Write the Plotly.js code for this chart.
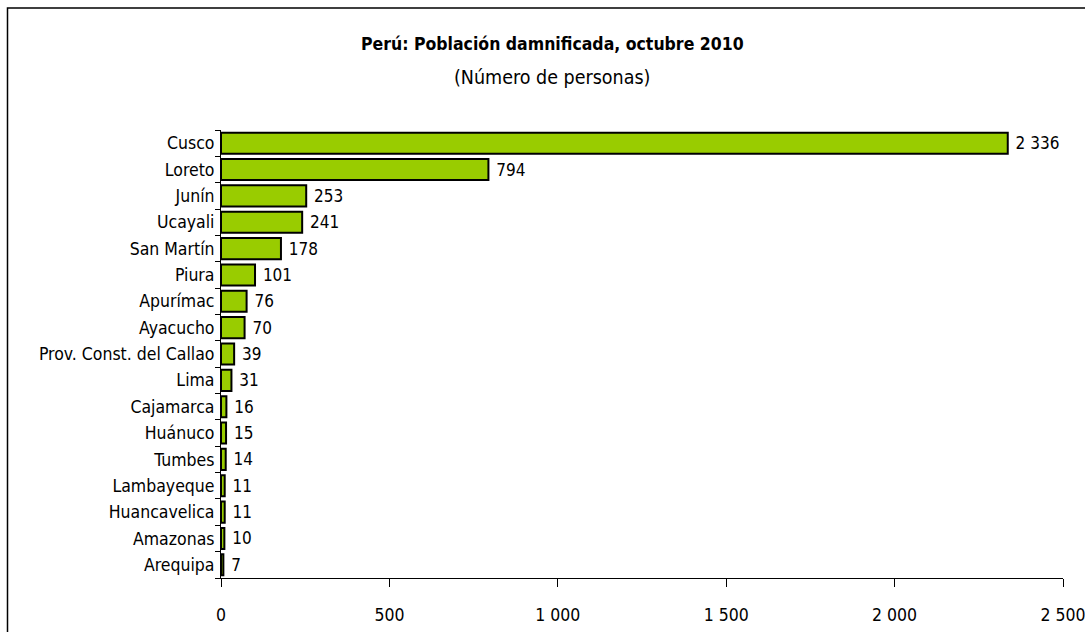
<!DOCTYPE html>
<html>
<head>
<meta charset="utf-8">
<script src="https://cdn.plot.ly/plotly-3.0.1.min.js"></script>
<style>
html,body{margin:0;padding:0;background:#fff;}
#chart{width:1085px;height:632px;}
#chart text{font-stretch:condensed !important;}
</style>
</head>
<body>
<div id="chart"></div>
<script>
const regiones = ["Cusco","Loreto","Junín","Ucayali","San Martín","Piura","Apurímac","Ayacucho","Prov. Const. del Callao","Lima","Cajamarca","Huánuco","Tumbes","Lambayeque","Huancavelica","Amazonas","Arequipa"];
const damnificados = [2336,794,253,241,178,101,76,70,39,31,16,15,14,11,11,10,7];
const xTicks = [0,500,1000,1500,2000,2500];
const titulo = "Perú: Población damnificada, octubre 2010";
const subtitulo = "(Número de personas)";

function fmt(v){ return String(v).replace(/\B(?=(\d{3})+(?!\d))/g, " "); }

const FONT = "'DejaVu Sans Condensed', 'DejaVu Sans', sans-serif";

const W = 1085, H = 632, L = 221, R = 22, T = 130, B = 54;
const pw = W - L - R, ph = H - T - B;
function px(x){ return (x - L) / pw; }
function py(y){ return (H - B - y) / ph; }

const trace = {
  type: "bar",
  orientation: "h",
  y: regiones,
  x: damnificados,
  text: damnificados.map(v => "\u00a0" + fmt(v)),
  textposition: "outside",
  cliponaxis: false,
  textfont: {family: FONT, size: 17, color: "#000"},
  marker: {color: "#99CC00", line: {color: "#000", width: 2}},
  hoverinfo: "y+x"
};

const layout = {
  width: W, height: H,
  margin: {l: L, r: R, t: T, b: B, pad: 0},
  paper_bgcolor: "#fff", plot_bgcolor: "#fff",
  separators: ". ",
  bargap: 0.2,
  showlegend: false,
  font: {family: FONT, color: "#000"},
  xaxis: {
    range: [0, 2500],
    tickvals: xTicks,
    ticktext: xTicks.map(fmt),
    ticks: "outside", ticklen: 8, tickcolor: "#000", tickwidth: 1,
    showline: true, linecolor: "#000", linewidth: 1,
    showgrid: false, zeroline: false,
    tickfont: {family: FONT, size: 17.5, color: "#000"},
    ticklabelstandoff: 13,
    ticklabeloverflow: "allow",
    fixedrange: true
  },
  yaxis: {
    type: "category",
    categoryorder: "array",
    categoryarray: regiones.slice().reverse(),
    autorange: false,
    range: [-0.5, regiones.length - 0.5],
    ticks: "outside", ticklen: 5, tickcolor: "#000", tickwidth: 1,
    tickson: "boundaries",
    showline: true, linecolor: "#000", linewidth: 1,
    showgrid: false, zeroline: false,
    tickfont: {family: FONT, size: 17.5, color: "#000"},
    ticklabelstandoff: 2,
    fixedrange: true
  },
  shapes: [{
    type: "rect", xref: "paper", yref: "paper",
    x0: px(7.5), x1: px(1100), y0: py(8), y1: py(660),
    line: {color: "#000", width: 1.5}, fillcolor: "rgba(0,0,0,0)", layer: "below"
  }],
  annotations: [
    {xref: "paper", yref: "paper", x: px(552), y: py(44), xanchor: "center", yanchor: "middle",
     text: "<b>" + titulo + "</b>", showarrow: false, font: {family: FONT, size: 17.5, color: "#000"}},
    {xref: "paper", yref: "paper", x: px(552), y: py(78), xanchor: "center", yanchor: "middle",
     text: subtitulo, showarrow: false, font: {family: FONT, size: 19.5, color: "#000"}}
  ]
};

Plotly.newPlot("chart", [trace], layout, {displayModeBar: false, staticPlot: true});
</script>
</body>
</html>
